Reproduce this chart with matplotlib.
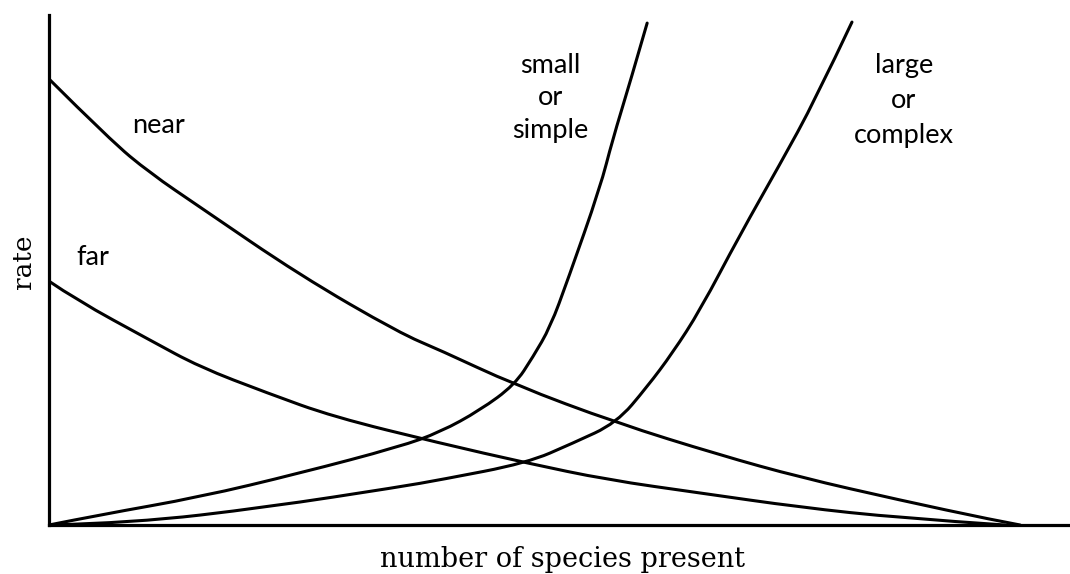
import numpy as np
import matplotlib.pyplot as plt
from matplotlib.path import Path
from matplotlib.patches import PathPatch

# values (x: species present, y: rate), arbitrary 0-100 units
near_x = [0, 6.0, 9.9, 14.8, 24.6, 34.4, 38.4, 45.7, 55.7, 65.8, 73.7, 83.5, 92.6, 95.3]
near_y = [87.8, 75.8, 69.3, 62.6, 49.2, 37.8, 34.4, 27.6, 20.1, 13.8, 9.4, 4.9, 1.0, 0]

far_x = [0, 2.7, 9.9, 14.8, 21.4, 27.9, 38.4, 46.9, 54.8, 63.9, 73.7, 83.5, 93.8]
far_y = [48.0, 44.3, 36.4, 31.1, 26.0, 21.3, 16.1, 12.2, 8.9, 6.3, 3.5, 1.4, 0]

small_x = [0, 5.0, 14.8, 24.6, 34.4, 38.4, 42.3, 45.7, 47.5, 49.2, 50.9, 54.1, 55.3, 57.0, 58.7]
small_y = [0, 2.0, 5.5, 10.2, 15.4, 18.3, 22.6, 27.6, 33.1, 39.0, 48.2, 66.5, 75.8, 87.0, 98.8]

large_x = [0, 8.2, 21.4, 34.4, 38.4, 46.9, 51.4, 55.7, 58.7, 61.2, 63.9, 67.8, 71.7, 75.2, 78.8]
large_y = [0, 0.4, 3.5, 7.5, 8.9, 12.2, 16.1, 20.1, 27.2, 33.9, 42.3, 57.1, 70.9, 83.7, 99.0]

labels = ["near", "far", "small\nor\nsimple", "large\nor\ncomplex"]


def smooth_path(xs, ys):
    # quadratic bezier through midpoints, read points act as control points
    pts = np.column_stack([xs, ys])
    verts = [pts[0]]
    codes = [Path.MOVETO]
    for i in range(1, len(pts) - 1):
        verts += [pts[i], (pts[i] + pts[i + 1]) / 2]
        codes += [Path.CURVE3, Path.CURVE3]
    verts[-1] = pts[-1]
    return Path(verts, codes)


W, H = 1070, 574
fig = plt.figure(figsize=(W / 100, H / 100), dpi=100)
ax = fig.add_axes([49 / W, (H - 525) / H, 1 - 49 / W, (525 - 15) / H])

for xs, ys in [(near_x, near_y), (far_x, far_y), (small_x, small_y), (large_x, large_y)]:
    ax.add_patch(PathPatch(smooth_path(xs, ys), fill=False, lw=2.2,
                           edgecolor='black', capstyle='round', joinstyle='round'))

ax.set_xlim(0, (W - 49) / 10.19)
ax.set_ylim(0, (525 - 15) / 5.08)
for s in ['top', 'right']:
    ax.spines[s].set_visible(False)
for s in ['left', 'bottom']:
    ax.spines[s].set_linewidth(2.3)
ax.set_xticks([])
ax.set_yticks([])

kw = dict(family='Lato', fontsize=19.5, color='black', ha='center', va='baseline')
ax.text(10.7, 77.2, labels[0], **kw)
ax.text(4.3, 51.2, labels[1], **kw)
for line, yb in zip(labels[2].split('\n'), [89.0, 82.7, 76.2]):
    ax.text(49.2, yb, line, **kw)
for line, yb in zip(labels[3].split('\n'), [89.0, 82.1, 75.2]):
    ax.text(83.9, yb, line, **kw)

fig.text(562 / W, 1 - 567 / H, 'number of species present', family='DejaVu Serif',
         fontsize=19.5, ha='center', va='baseline')
fig.text(23 / W, 1 - 262 / H, 'rate', family='DejaVu Serif', fontsize=19,
         rotation=90, ha='center', va='center')

plt.savefig('out.png', dpi=100)
